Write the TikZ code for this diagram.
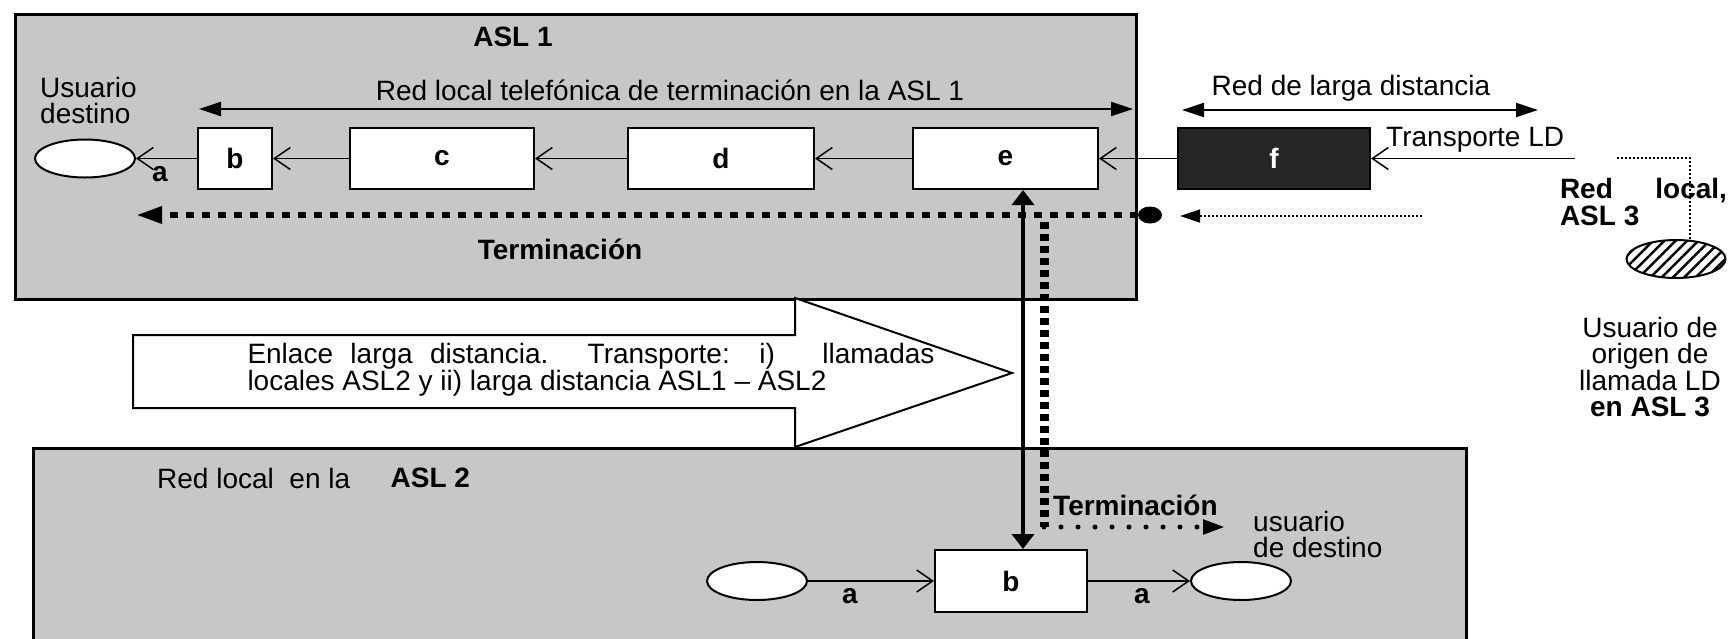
\documentclass[tikz,border=0pt]{standalone}
\usepackage{fontspec}
\setmainfont{Liberation Sans}
\usetikzlibrary{arrows.meta,positioning,shapes.geometric,patterns.meta}
\newcommand{\lblsize}{\fontsize{28pt}{26pt}\selectfont}
\tikzset{
  area/.style={draw, line width=3pt, fill=black!22, anchor=north west, inner sep=0pt},
  elem/.style={draw, fill=white, line width=2pt, inner sep=0pt, minimum height=61pt, font=\lblsize\bfseries},
  user/.style={draw, ellipse, fill=white, line width=2pt, minimum width=100pt, minimum height=38pt, inner sep=0pt},
  txt/.style={inner sep=0pt, font=\lblsize},
  bold/.style={txt, font=\lblsize\bfseries},
  link/.style={-{Straight Barb[length=16pt,width=22pt,line width=1.5pt]}, line width=1.5pt},
  span/.style={{Triangle[length=22pt,width=14pt]}-{Triangle[length=22pt,width=14pt]}, line width=2pt},
  vlink/.style={{Triangle[length=15pt,width=22pt]}-{Triangle[length=15pt,width=22pt]}, line width=3.5pt},
  termdash/.style={-{Triangle[length=26pt,width=16pt]}, line width=6pt, dash pattern=on 8pt off 8pt},
  vdash/.style={line width=9pt, dash pattern=on 7pt off 5pt},
  termdots/.style={-{Triangle[length=22pt,width=14pt]}, line width=5pt, line cap=round, dash pattern=on 0pt off 17pt},
  thindots/.style={line width=1.3pt, dash pattern=on 2pt off 2pt},
}

\begin{document}
\begin{tikzpicture}[x=1pt, y=-1pt]
  \useasboundingbox (0,0) rectangle (1728,638);

  % Areas
  \node[area, minimum width=1121pt, minimum height=285pt] (asl1) at (14,13) {};
  \node[area, minimum width=1433pt, minimum height=215pt] (asl2) at (32,447) {};

  % Long distance link arrow
  \draw[line width=2pt, fill=white] (133,335) -- (795,335) -- (795,298) -- (1012,373)
    -- (795,447) -- (795,408) -- (133,408) -- cycle;
  \node[txt, text width=687pt, align=justify] (enlace) at (591,370)
    {Enlace larga distancia. Transporte: i)\hspace{30pt} llamadas\linebreak locales ASL2 y ii) larga distancia ASL1 -- ASL2};

  % ASL 1
  \node[bold] (asl1name) at (513,37) {ASL 1};
  \node[txt] (redloc) at (670,90) {Red local telefónica de terminación en la ASL 1};
  \coordinate (rl1) at (199,109);
  \coordinate (rl2) at (1133,109);
  \draw[span] (rl1) -- (rl2);

  \node[txt, align=left, anchor=west, font=\fontsize{28pt}{26pt}\selectfont] (udest) at (40,100) {Usuario\\destino};
  \node[user] (u1) at (85,158.5) {};
  \node[elem, minimum width=74pt] (b) at (235,158.5) {b};
  \node[elem, minimum width=184pt] (c) at (442,158.5) {c};
  \node[elem, minimum width=186pt] (d) at (721,158.5) {d};
  \node[elem, minimum width=185pt] (e) at (1005.5,158.5) {e};
  \node[elem, minimum width=192pt, fill=black!85, text=white] (f) at (1274,158.5) {f};
  \node[bold] (a1) at (160,174) {a};

  \draw[link] (b) -- (u1);
  \draw[link] (c) -- (b);
  \draw[link] (d) -- (c);
  \draw[link] (e) -- (d);
  \draw[link] (f) -- (e);

  % Long distance network
  \node[txt] (rld) at (1351,88) {Red de larga distancia};
  \coordinate (ld1) at (1182,110);
  \coordinate (ld2) at (1538,110);
  \draw[span] (ld1) -- (ld2);
  \node[txt, anchor=west] (tld) at (1386,140) {Transporte LD};
  \coordinate (src) at (1575,158.5);
  \draw[link] (src) -- (f);

  % Termination in ASL 1
  \node[fill, ellipse, minimum width=24pt, minimum height=17pt, inner sep=0pt] (dot) at (1150,215) {};
  \coordinate (t1) at (136,215);
  \draw[termdash] (dot) -- (t1);
  \coordinate (o1) at (1422,216);
  \coordinate (o2) at (1180,216);
  \draw[thindots, -{Triangle[length=20pt,width=13pt]}] (o1) -- (o2);
  \node[bold] (term1) at (560,249) {Terminación};

  % ASL 3
  \node[bold, text width=167pt, align=justify, font=\fontsize{28pt}{27pt}\selectfont\bfseries] (rl3) at (1643.5,202) {Red local, ASL 3};
  \node[draw, ellipse, line width=2pt, minimum width=99pt, minimum height=38pt, inner sep=0pt,
    preaction={fill=white}, pattern={Lines[angle=45,distance=8pt,line width=2.5pt]}] (orig) at (1676,259) {};
  \coordinate (s1) at (1617,158);
  \coordinate (s2) at (1690,158);
  \draw[thindots] (s1) -- (s2) -- (orig.north -| s2);
  \node[txt, align=center, font=\fontsize{28pt}{26.5pt}\selectfont] (uorig) at (1650,367)
    {Usuario de\\origen de\\llamada LD\\\textbf{en ASL 3}};

  % ASL 2
  \node[txt, anchor=west] (rl2a) at (157,478) {Red local\ \ en la};
  \node[bold, right=40pt of rl2a] (asl2name) {ASL 2};
  \node[user] (u2) at (757,581) {};
  \node[elem, minimum width=152pt, minimum height=62pt] (b2) at (1011,581) {b};
  \node[user] (u3) at (1241,581) {};
  \draw[link] (u2) -- (b2);
  \draw[link] (b2) -- (u3);
  \node[bold] (a2) at (850,596) {a};
  \node[bold] (a3) at (1142,596) {a};
  \node[bold, anchor=west] (term2) at (1053,505) {Terminación};
  \node[txt, align=left, anchor=west] (udest2) at (1253,534) {usuario\\de destino};

  % Vertical link and termination path
  \coordinate (vx) at (1023,0);
  \draw[vlink] (e.south -| vx) -- (b2.north -| vx);
  \coordinate (jv) at (1044,222);
  \coordinate (cv) at (1044,527);
  \coordinate (tv) at (1225,527);
  \draw[vdash] (jv) -- (cv);
  \draw[termdots] (cv) -- (tv);
\end{tikzpicture}
\end{document}
